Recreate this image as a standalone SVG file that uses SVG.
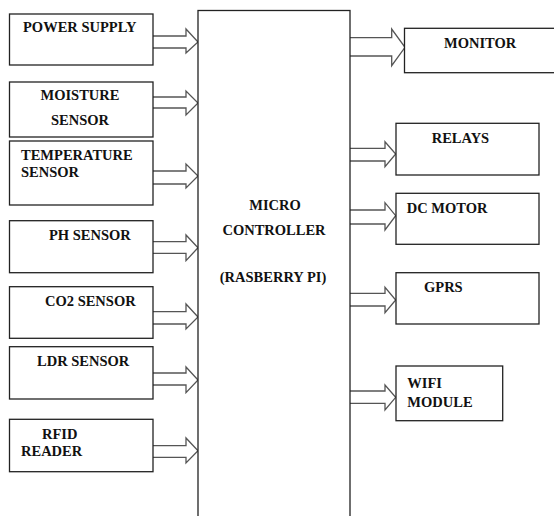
<svg xmlns="http://www.w3.org/2000/svg" width="554" height="516" viewBox="0 0 554 516">
<style>
.box{fill:#fff;stroke:#222;stroke-width:1.3}
.arr{fill:#fff;stroke:#555;stroke-width:1.3;stroke-linejoin:miter}
text{font-family:'Liberation Serif','Times New Roman',serif;font-weight:bold;font-size:14.5px;fill:#111}
</style>
<rect width="554" height="516" fill="#fff"/>
<g id="connectors">
<path class="arr" d="M153,36 H186 V29 L198,42 L186,53 V48 H153"/>
<path class="arr" d="M153,97 H186 V91 L198,103 L186,115 V108 H153"/>
<path class="arr" d="M153,171 H186 V164 L198,176 L186,188 V184 H153"/>
<path class="arr" d="M153,241.7 H186 V235 L198,247.7 L186,260.7 V253.3 H153"/>
<path class="arr" d="M153,311.7 H186 V304 L198,317 L186,329 V324 H153"/>
<path class="arr" d="M153,373 H186 V367 L198,380 L186,392.7 V385 H153"/>
<path class="arr" d="M152,445.7 H186 V438 L198,450.7 L186,463 V457.3 H152"/>
<path class="arr" d="M350,37.7 H391.7 V29 L405,47.3 L391.7,65.7 V56 H350"/>
<path class="arr" d="M350,148.3 H385 V141.7 L395.7,154 L385,166.7 V161 H350"/>
<path class="arr" d="M350,210 H385 V202.7 L395.7,215.7 L385,230 V224 H350"/>
<path class="arr" d="M350,293.3 H385 V287.3 L395.7,300 L385,312.7 V306 H350"/>
<path class="arr" d="M350,391 H385 V385 L395.7,397.3 L385,410 V403.3 H350"/>
</g>
<g id="micro">
<rect class="box" x="198" y="10.5" width="152" height="520"/>
<text x="275" y="210" text-anchor="middle">MICRO</text>
<text x="274" y="235" text-anchor="middle">CONTROLLER</text>
<text x="273" y="281.7" text-anchor="middle">(RASBERRY PI)</text>
</g>
<g id="power"><rect class="box" x="9.5" y="14" width="143.5" height="51"/><text x="23" y="32">POWER SUPPLY</text></g>
<g id="moisture"><rect class="box" x="9.5" y="82" width="143.5" height="55"/><text x="80" y="100" text-anchor="middle">MOISTURE</text><text x="80" y="125" text-anchor="middle">SENSOR</text></g>
<g id="temperature"><rect class="box" x="9.5" y="141" width="143.5" height="64"/><text x="21" y="160">TEMPERATURE</text><text x="21" y="177">SENSOR</text></g>
<g id="ph"><rect class="box" x="9.5" y="220.7" width="143.5" height="52"/><text x="49" y="240">PH SENSOR</text></g>
<g id="co2"><rect class="box" x="9.5" y="286.7" width="143.5" height="51.6"/><text x="45" y="306">CO2 SENSOR</text></g>
<g id="ldr"><rect class="box" x="9.5" y="346.7" width="143.5" height="52.3"/><text x="37" y="365.7">LDR SENSOR</text></g>
<g id="rfid"><rect class="box" x="9.5" y="419.3" width="143.5" height="52.4"/><text x="42" y="439">RFID</text><text x="21" y="456">READER</text></g>
<g id="monitor"><rect class="box" x="404.5" y="28.3" width="160" height="44.4"/><text x="444" y="47.7">MONITOR</text></g>
<g id="relays"><rect class="box" x="396" y="123.3" width="143" height="51.7"/><text x="431.7" y="142.7">RELAYS</text></g>
<g id="dcmotor"><rect class="box" x="396" y="193.3" width="143" height="51"/><text x="406.7" y="212.7">DC MOTOR</text></g>
<g id="gprs"><rect class="box" x="396" y="272.7" width="143" height="51.3"/><text x="424" y="291.7">GPRS</text></g>
<g id="wifi"><rect class="box" x="396" y="366" width="106.7" height="54.7"/><text x="407.3" y="388.3">WIFI</text><text x="407.3" y="407.3">MODULE</text></g>
</svg>
